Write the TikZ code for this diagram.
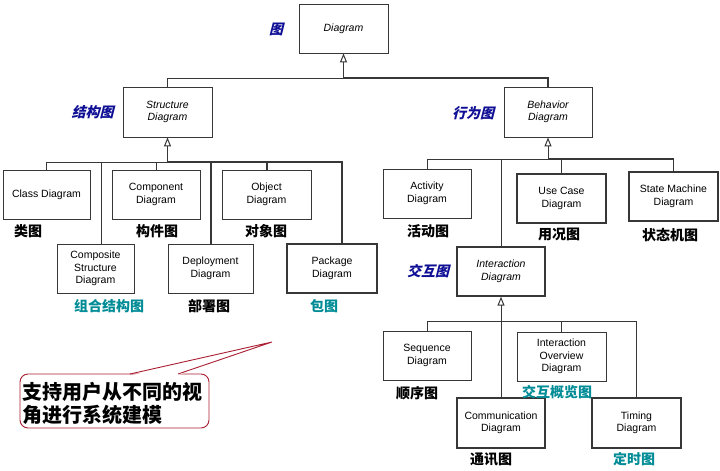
\documentclass[tikz,border=0pt]{standalone}
\usepackage{fontspec}
\setmainfont{Liberation Sans}
\newfontfamily\cjk{Noto Sans CJK SC}
\newfontfamily\cjkslant[FakeSlant=0.25]{Noto Sans CJK SC}
\usetikzlibrary{arrows.meta}
\definecolor{linec}{RGB}{55,55,55}
\definecolor{lblue}{RGB}{15,15,150}
\definecolor{lteal}{RGB}{0,140,150}
\definecolor{noteRed}{RGB}{170,30,50}
\tikzset{
  box/.style={draw=linec, line width=0.8pt, inner sep=0pt, align=center, fill=white,
    font=\fontsize{10.5}{12.5}\selectfont},
  thickbox/.style={box, line width=1.3pt},
  abs/.style={font=\fontsize{10.5}{12.5}\selectfont\itshape},
  wire/.style={draw=linec, line width=0.8pt},
  thickwire/.style={draw=linec, line width=1.3pt},
  gen/.style={wire, -{Triangle[open, length=9pt, width=7pt, line width=1pt]}},
  cnlbl/.style={font=\cjk\bfseries\fontsize{14}{16}\selectfont, inner sep=0pt},
  tealbl/.style={cnlbl, text=lteal},
  bluelbl/.style={font=\cjkslant\bfseries\fontsize{14}{16}\selectfont, text=lblue, inner sep=0pt},
  notebox/.style={draw=noteRed, line width=0.9pt, rounded corners=8pt, fill=white}
}
\begin{document}
\begin{tikzpicture}[x=1pt, y=-1pt]
\useasboundingbox[fill=white] (0,0) rectangle (720,471);

% ---- boxes
\node[box, abs, minimum width=89, minimum height=49] (diagram) at (343.5,28.5) {Diagram};
\node[box, abs, minimum width=89, minimum height=50] (struct) at (167.5,112) {Structure\\Diagram};
\node[box, abs, minimum width=88, minimum height=50] (behav) at (548,112) {Behavior\\Diagram};

\node[box, minimum width=87, minimum height=49] (class) at (46.5,194.5) {Class Diagram};
\node[box, minimum width=88, minimum height=49] (component) at (156,194.5) {Component\\Diagram};
\node[box, minimum width=89, minimum height=49] (object) at (266.5,194.5) {Object\\Diagram};
\node[box, minimum width=77, minimum height=49] (composite) at (95.5,268.5) {Composite\\Structure\\Diagram};
\node[box, minimum width=85, minimum height=49] (deploy) at (210.5,268.5) {Deployment\\Diagram};
\node[thickbox, minimum width=90, minimum height=49] (package) at (332,268.5) {Package\\Diagram};

\node[box, minimum width=88, minimum height=49] (activity) at (427,193.5) {Activity\\Diagram};
\node[thickbox, minimum width=89, minimum height=49] (usecase) at (561.5,198.5) {Use Case\\Diagram};
\node[thickbox, minimum width=89, minimum height=49] (statem) at (673.5,196.5) {State Machine\\Diagram};
\node[thickbox, abs, minimum width=88, minimum height=49] (interact) at (501,271.5) {Interaction\\Diagram};

\node[box, minimum width=88, minimum height=49] (sequence) at (427,355.5) {Sequence\\Diagram};
\node[box, minimum width=89, minimum height=49] (overview) at (561.5,356.5) {Interaction\\Overview\\Diagram};
\node[thickbox, minimum width=88, minimum height=50] (commun) at (501,423) {Communication\\Diagram};
\node[thickbox, minimum width=89, minimum height=50] (timing) at (636.5,423) {Timing\\Diagram};

% ---- junction coordinates
\coordinate (tb) at (343.5,78);
\coordinate (sb) at (167.5,162);
\coordinate (bb) at (548,159);
\coordinate (ib) at (501,321);

% ---- top level
\draw[wire] (struct.north) |- (tb);
\draw[thickwire] (tb) -| (behav.north);
\draw[gen] (tb) -- (diagram.south);

% ---- structure children
\draw[wire] (class.north) |- (sb);
\draw[wire] ([xshift=5.5pt]composite.north) |- (sb);
\draw[wire] (component.north) |- (sb);
\draw[thickwire] ([xshift=0.5pt]deploy.north) |- (sb);
\draw[thickwire] ([xshift=0.5pt]object.north) |- (sb);
\draw[thickwire] ([xshift=10pt]package.north) |- (sb);
\draw[gen] (sb) -- (struct.south);

% ---- behavior children
\draw[wire] (activity.north) |- (bb);
\draw[wire] ([yshift=0.6pt]interact.north) |- (bb);
\draw[wire] (usecase.north) |- (bb);
\draw[thickwire] (statem.north) |- (bb);
\draw[gen] (bb) -- (behav.south);

% ---- interaction children
\draw[wire] (sequence.north) |- (ib);
\draw[wire] (overview.north) |- (ib);
\draw[wire] (timing.north) |- (ib);
\draw[wire] (commun.north) -- (ib);
\draw[gen] (ib) -- (interact.south);

% ---- blue category labels
\node[bluelbl] (l0) at (276,29) {图};
\node[bluelbl] (l1) at (92.5,112) {结构图};
\node[bluelbl] (l2) at (473,113) {行为图};
\node[bluelbl] (l3) at (428,271) {交互图};

% ---- chinese names
\node[cnlbl] (n1) at (28,231) {类图};
\node[cnlbl] (n2) at (157,231) {构件图};
\node[cnlbl] (n3) at (266,231) {对象图};
\node[tealbl] (n4) at (109,306) {组合结构图};
\node[cnlbl] (n5) at (209,306) {部署图};
\node[tealbl] (n6) at (324,306) {包图};
\node[cnlbl] (n7) at (428,231) {活动图};
\node[cnlbl] (n8) at (559,234) {用况图};
\node[cnlbl] (n9) at (670,235) {状态机图};
\node[cnlbl] (n10) at (417,393) {顺序图};
\node[tealbl] (n11) at (557,392) {交互概览图};
\node[cnlbl] (n12) at (491,459) {通讯图};
\node[tealbl] (n13) at (634,459) {定时图};

% ---- callout
\node[notebox, minimum width=189, minimum height=54, inner sep=0pt] (note) at (114.5,401) {};
\coordinate (tip) at (272,342);
\fill[white] (131,375.5) -- (tip) -- (177,375.5) -- cycle;
\draw[draw=noteRed, line width=0.9pt, line join=miter] (130,374) -- (tip) -- (178,374);
\node[anchor=west, align=left, inner sep=0pt, font=\cjk\bfseries\fontsize{20}{23}\selectfont] (notetext) at (22,403.5) {支持用户从不同的视\\角进行系统建模};
\end{tikzpicture}
\end{document}
